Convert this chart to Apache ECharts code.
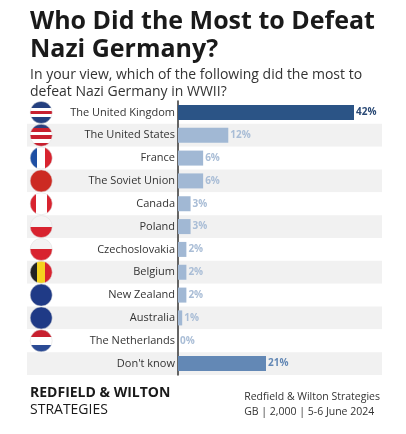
<!DOCTYPE html>
<html><head><meta charset="utf-8">
<script src="https://cdn.jsdelivr.net/npm/echarts@6/dist/echarts.min.js"></script>
<style>html,body{margin:0;padding:0;background:#fff}#c{width:406px;height:434px}</style>
</head><body><div id="c"></div>
<script>
const categories = ["The United Kingdom","The United States","France","The Soviet Union","Canada","Poland","Czechoslovakia","Belgium","New Zealand","Australia","The Netherlands","Don't know"];
const values = [42,12,6,6,3,3,2,2,2,1,0,21];
const flags = ["uk","us","fr","su","ca","pl","cz","be","nz","au","nl",null];

const G = echarts.graphic;
function stripes(dir, cols){
  const stops=[]; const n=cols.length;
  cols.forEach((c,i)=>{stops.push({offset:i/n,color:c});stops.push({offset:(i+1)/n,color:c});});
  return dir==='h' ? new G.LinearGradient(0,0,0,1,stops) : new G.LinearGradient(0,0,1,0,stops);
}
const flagStyle = {
  uk: stripes('h',['#24407f','#24407f','#fff','#c8202f','#fff','#24407f','#24407f']),
  us: stripes('h',['#2c3f7d','#c8202f','#fff','#c8202f','#fff','#c8202f']),
  fr: stripes('v',['#1e4fa3','#fff','#d8232f']),
  su: '#cc2a22',
  ca: stripes('v',['#d8232f','#fff','#fff','#d8232f']),
  pl: stripes('h',['#f4f4f4','#d8232f']),
  cz: stripes('h',['#f4f4f4','#d8232f']),
  be: stripes('v',['#222','#f5d21e','#d8232f']),
  nz: '#1f3a86',
  au: '#1f3a86',
  nl: stripes('h',['#c8202f','#fff','#2a4a94'])
};
const barColors = values.map((v,i)=> i===0 ? '#2b5486' : (i===categories.length-1 ? '#6388b5' : '#a1b8d4'));
const labelColors = values.map((v,i)=> i===0 ? '#2b4a76' : (i===categories.length-1 ? '#6388b5' : '#a9bdd6'));

const chart = echarts.init(document.getElementById('c'));
chart.setOption({
  animation:false,
  title:[
    {text:"Who Did the Most to Defeat\nNazi Germany?",left:25,top:3,textStyle:{fontFamily:'Open Sans',fontWeight:'bold',fontSize:25,lineHeight:28,color:'#1a1a1a'}},
    {text:"In your view, which of the following did the most to\ndefeat Nazi Germany in WWII?",left:25,top:62,textStyle:{fontFamily:'Open Sans',fontWeight:'normal',fontSize:14,lineHeight:17,color:'#333'}},
    {text:"REDFIELD & WILTON",left:25,top:381,textStyle:{fontFamily:'Open Sans',fontWeight:'bold',fontSize:14,color:'#1a1a1a'}},
    {text:"STRATEGIES",left:25,top:398,textStyle:{fontFamily:'Open Sans',fontWeight:'normal',fontSize:14,color:'#1a1a1a'}}
  ],
  graphic:[
    {type:'text',right:26,top:390,style:{text:"Redfield & Wilton Strategies\nGB | 2,000 | 5-6 June 2024",align:'right',fontFamily:'Open Sans',fontSize:10.5,lineHeight:15,fill:'#333'}}
  ],
  grid:[
    {left:27,right:24,top:101,height:274},
    {left:178,right:52,top:101,height:274}
  ],
  xAxis:[
    {gridIndex:0,type:'value',min:0,max:1,show:false},
    {gridIndex:1,type:'value',min:0,max:42,show:false}
  ],
  yAxis:[
    {gridIndex:0,type:'category',data:categories,inverse:true,axisLine:{show:false},axisTick:{show:false},axisLabel:{show:false},
     splitArea:{show:true,areaStyle:{color:['#ffffff','#f1f1f1']}}},
    {gridIndex:1,type:'category',data:categories,inverse:true,
     axisLine:{show:true,lineStyle:{color:'#333',width:1.5}},axisTick:{show:false},
     axisLabel:{fontFamily:'Open Sans',fontSize:11,color:'#333',margin:3}}
  ],
  series:[
    {type:'scatter',xAxisIndex:0,yAxisIndex:0,symbolSize:22,silent:true,
     data:categories.map((c,i)=>flags[i]?{value:[0.04,i],itemStyle:{opacity:1,color:flagStyle[flags[i]],borderColor:'#ddd',borderWidth:0.5}}:{value:[0.04,i],symbolSize:0})},
    {type:'bar',xAxisIndex:1,yAxisIndex:1,barWidth:15,
     data:values.map((v,i)=>({value:v,itemStyle:{color:barColors[i]},label:{color:labelColors[i]}})),
     label:{show:true,position:'right',distance:2,formatter:'{c}%',fontFamily:'Open Sans',fontSize:10,fontWeight:'bold'}}
  ]
});
</script></body></html>
